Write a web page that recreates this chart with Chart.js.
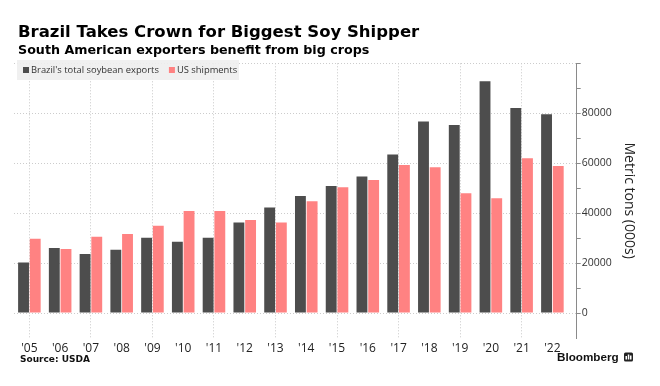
<!DOCTYPE html>
<html>
<head>
<meta charset="utf-8">
<script src="https://cdn.jsdelivr.net/npm/chart.js@4.4.1/dist/chart.umd.min.js"></script>
<style>
    html, body { margin: 0; padding: 0; background: #fff; }
    #wrap { position: relative; width: 660px; height: 386px; overflow: hidden; }
    #soyChart { position: absolute; left: 0; top: 0; }
    .txt { position: absolute; white-space: nowrap; line-height: 1; color: #000; }
    #title { left: 18px; top: 22px; font: bold 16.5px "DejaVu Sans"; }
    #subtitle { left: 18px; top: 41.6px; font: bold 12.7px "DejaVu Sans"; }
    #source { left: 20px; top: 354px; font: bold 9px "DejaVu Sans"; color: #111; }
    #brand { left: 557px; top: 350px; font: bold 11.7px "Liberation Sans"; color: #111; }
</style>
</head>
<body>
<div id="wrap">
    <canvas id="soyChart" width="660" height="386"></canvas>
    <div class="txt" id="title">Brazil Takes Crown for Biggest Soy Shipper</div>
    <div class="txt" id="subtitle">South American exporters benefit from big crops</div>
    <div class="txt" id="source">Source: USDA</div>
    <div class="txt" id="brand">Bloomberg</div>
</div>
<script>
// values, thousand metric tons
var years = ["'05", "'06", "'07", "'08", "'09", "'10", "'11", "'12", "'13",
             "'14", "'15", "'16", "'17", "'18", "'19", "'20", "'21", "'22"];
var brazilExports = [20200, 26000, 23600, 25300, 30100, 28500, 30100, 36300, 42300,
                     46900, 50900, 54700, 63500, 76700, 75300, 92800, 82100, 79600];
var usShipments = [29700, 25600, 30500, 31600, 34900, 40900, 40900, 37300, 36300,
                   44800, 50400, 53300, 59300, 58400, 48000, 46000, 62000, 58900];
var yLabelValues = [0, 20000, 40000, 60000, 80000];
var seriesNames = ["Brazil's total soybean exports", "US shipments"];
var seriesColors = ['#4d4d4d', '#ff8282'];

var clear = 'rgba(0,0,0,0)';

// legend box + logo, drawn by hand like the original
var decorPlugin = {
    id: 'decor',
    beforeDatasetsDraw: function(chart) {
        var ctx = chart.ctx;
        ctx.save();
        ctx.fillStyle = 'rgba(238,238,238,0.9)';
        ctx.fillRect(17, 60, 222, 20);
        ctx.font = '9.4px "Open Sans"';
        ctx.textBaseline = 'middle';
        var x = 23;
        chart.data.datasets.forEach(function(ds) {
            ctx.fillStyle = ds.backgroundColor;
            ctx.fillRect(x, 67, 6, 6);
            ctx.fillStyle = '#333';
            ctx.fillText(ds.label, x + 8, 70.5);
            x += 8 + ctx.measureText(ds.label).width + 10;
        });
        ctx.restore();
    },
    afterDraw: function(chart) {
        var ctx = chart.ctx;
        ctx.save();
        ctx.fillStyle = '#222';
        ctx.beginPath();
        ctx.roundRect(624, 352.5, 9, 9, 1.5);
        ctx.fill();
        ctx.fillStyle = '#fff';
        ctx.fillRect(625.5, 356, 1.5, 3.5);
        ctx.fillRect(627.8, 354.5, 1.5, 5);
        ctx.fillRect(630, 355.5, 1.5, 4);
        ctx.restore();
    }
};

var ctx = document.getElementById('soyChart').getContext('2d');
var soyChart = new Chart(ctx, {
    type: 'bar',
    data: {
        labels: years.map(function(y, i) { return i; }),
        datasets: [{
            label: seriesNames[0],
            data: brazilExports,
            backgroundColor: seriesColors[0],
            borderWidth: 0
        }, {
            label: seriesNames[1],
            data: usShipments,
            backgroundColor: seriesColors[1],
            borderWidth: 0
        }]
    },
    options: {
        responsive: false,
        animation: false,
        devicePixelRatio: 1,
        categoryPercentage: 0.76,
        barPercentage: 0.93,
        layout: {
            padding: { left: 14, top: 63.3, right: 22.5, bottom: 0 }
        },
        plugins: {
            legend: { display: false },
            tooltip: { enabled: false }
        },
        scales: {
            x: {
                type: 'linear',
                offset: false,
                min: -0.5,
                max: 17.79,
                afterFit: function(scale) { scale.height = 48; },
                border: { display: false, dash: [1, 2] },
                grid: {
                    offset: false,
                    color: function(c) {
                        var v = c.tick && c.tick.value;
                        return (Number.isInteger(v) && v % 2 === 0) ? '#c8c8c8' : clear;
                    },
                    drawTicks: false
                },
                ticks: {
                    stepSize: 1,
                    includeBounds: false,
                    autoSkip: false,
                    maxRotation: 0,
                    padding: 3,
                    color: '#222',
                    font: { family: 'Open Sans', size: 12 },
                    callback: function(v) {
                        return Number.isInteger(v) && years[v] !== undefined ? years[v] : '';
                    }
                }
            },
            y: {
                position: 'right',
                min: -10000,
                max: 100000,
                afterFit: function(scale) { scale.width = 60.8; },
                border: { display: true, color: '#8a8a8a', dash: [1, 2] },
                grid: {
                    color: function(c) {
                        var v = c.tick && c.tick.value;
                        return yLabelValues.indexOf(v) >= 0 || v === 100000 ? '#cccccc' : clear;
                    },
                    tickColor: function(c) {
                        return c.tick && c.tick.value >= 0 ? '#8a8a8a' : clear;
                    },
                    tickBorderDash: [],
                    tickLength: 4
                },
                ticks: {
                    stepSize: 10000,
                    padding: 1,
                    color: '#333',
                    font: { family: 'Open Sans', size: 10.5 },
                    callback: function(v) {
                        return yLabelValues.indexOf(v) >= 0 ? String(v) : '';
                    }
                },
                title: {
                    display: true,
                    text: 'Metric tons (000s)',
                    color: '#222',
                    font: { family: 'Open Sans', size: 14 },
                    padding: { top: 0, bottom: 0 }
                }
            }
        }
    },
    plugins: [decorPlugin]
});
</script>
</body>
</html>
